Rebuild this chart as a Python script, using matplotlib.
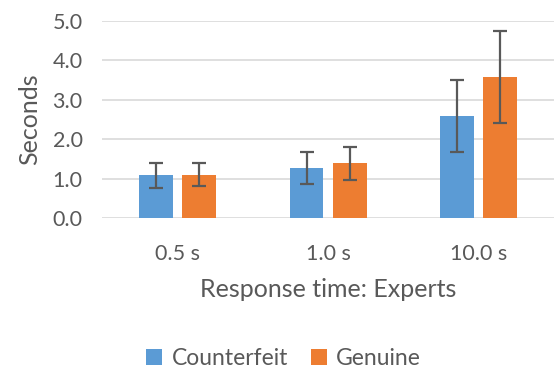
import matplotlib.pyplot as plt
import numpy as np

groups = ['0.5 s', '1.0 s', '10.0 s']
counterfeit = [1.08, 1.27, 2.59]
counterfeit_err = [0.31, 0.41, 0.91]
genuine = [1.10, 1.39, 3.58]
genuine_err = [0.30, 0.42, 1.16]

plt.rcParams['font.family'] = ['Lato', 'DejaVu Sans']
text_col = '#595959'

fig = plt.figure(figsize=(5.58, 3.73), dpi=100)
ax = fig.add_axes([0.183, 0.4155, 0.81, 0.529])

x = np.arange(len(groups))
w = 0.224
off = 0.143
err_kw = dict(ecolor='#595959', elinewidth=1.6, capsize=5, capthick=1.6)
ax.bar(x - off, counterfeit, w, yerr=counterfeit_err, color='#5B9BD5',
       label='Counterfeit', error_kw=err_kw, zorder=3)
ax.bar(x + off, genuine, w, yerr=genuine_err, color='#ED7D31',
       label='Genuine', error_kw=err_kw, zorder=3)

ax.set_xlim(-0.5, 2.5)
ax.set_ylim(0, 5)
ax.set_yticks(np.arange(0, 5.1, 1.0))
ax.set_yticklabels([f'{v:.1f}' for v in np.arange(0, 5.1, 1.0)])
ax.set_xticks(x)
ax.set_xticklabels(groups)
ax.tick_params(axis='both', length=0, labelsize=15.5, colors=text_col)
ax.tick_params(axis='x', pad=19)
ax.tick_params(axis='y', pad=14)
ax.grid(axis='y', color='#D9D9D9', linewidth=1.2, zorder=0)
for s in ax.spines.values():
    s.set_visible(False)

ax.set_xlabel('Response time: Experts', fontsize=18, color=text_col, labelpad=10)
ax.set_ylabel('Seconds', fontsize=18, color=text_col, labelpad=8)

fig.legend(loc='lower center', bbox_to_anchor=(0.508, -0.045), ncol=2, frameon=False,
           fontsize=16.5, handlelength=0.7, handleheight=0.7, handletextpad=0.4,
           columnspacing=1.0, labelcolor=text_col)

fig.savefig('out.png', dpi=100)
